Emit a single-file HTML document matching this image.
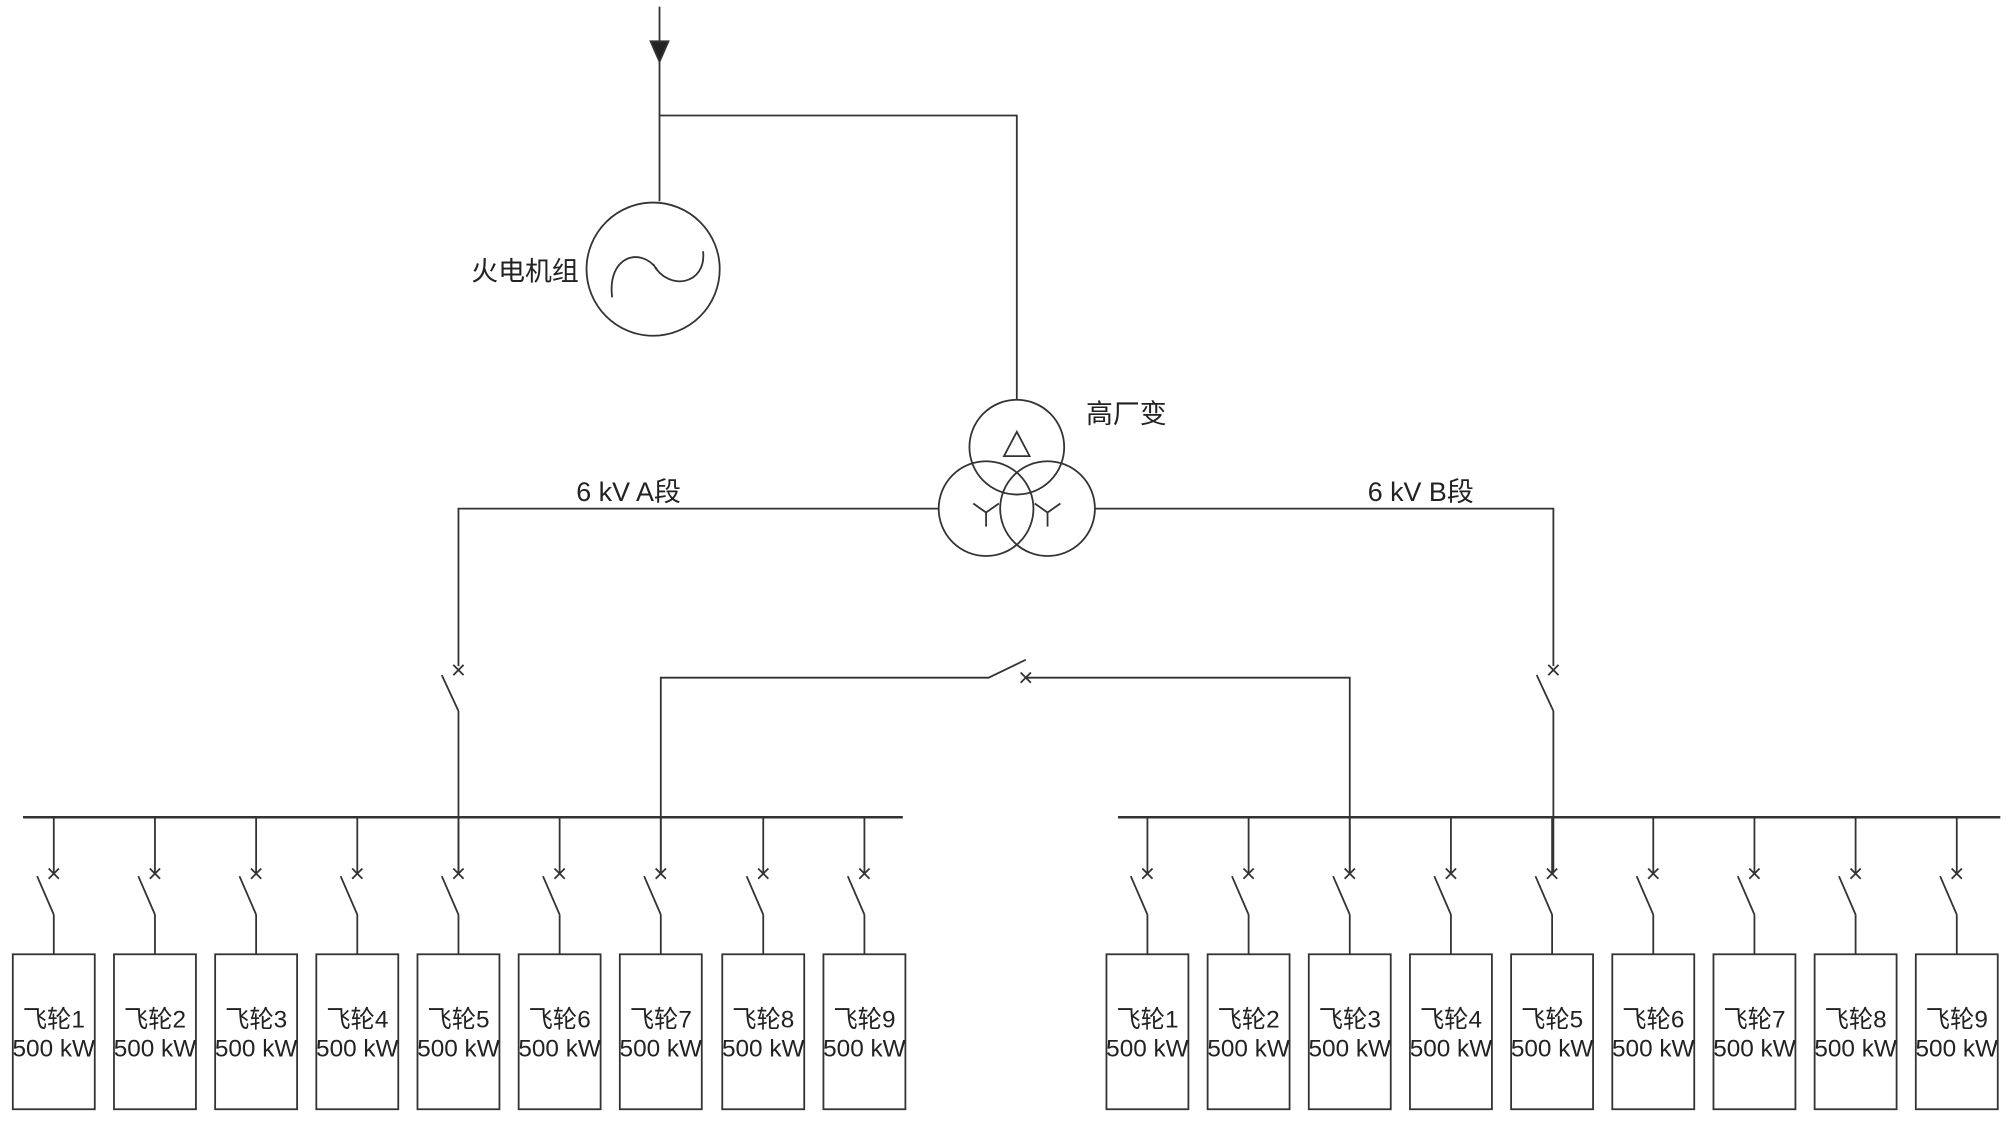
<!DOCTYPE html>
<html><head><meta charset="utf-8"><style>
html,body{margin:0;padding:0;background:#fff;}
svg{display:block;}
text{font-family:"Liberation Sans","Noto Sans CJK SC",sans-serif;fill:#222;}
</style></head><body>
<svg width="2008" height="1121" viewBox="0 0 1568 875" xmlns="http://www.w3.org/2000/svg">
<defs>
<g id="fd" stroke="#333" stroke-width="1.4" fill="none">
<line x1="0" y1="638" x2="0" y2="682"/>
<line x1="-4" y1="678" x2="4" y2="686"/><line x1="4" y1="678" x2="-4" y2="686"/>
<line x1="-13" y1="684" x2="0" y2="714"/>
<line x1="0" y1="714" x2="0" y2="745"/>
<rect x="-32" y="745" width="64" height="121"/>
</g>
</defs>
<g stroke="#333" stroke-width="1.4" fill="none">
<line x1="515" y1="5" x2="515" y2="157"/>
<polygon points="508,32 522,32 515,48" fill="#222"/>
<polyline points="515,90 794,90 794,312"/>
<circle cx="510" cy="210" r="52"/>
<path d="M478,232 C474,200 500,192 513,210 M510,206 C522,228 552,222 549,196"/>
<circle cx="794" cy="349" r="37"/>
<circle cx="770" cy="397" r="37"/>
<circle cx="818" cy="397" r="37"/>
<polygon points="794,337 784,356 804,356"/>
<path d="M760,393 L770,400 L780,393 M770,400 L770,411"/>
<path d="M808,393 L818,400 L828,393 M818,400 L818,411"/>
<polyline points="733,397 358,397 358,520"/>
<line x1="354" y1="519" x2="362" y2="527"/><line x1="362" y1="519" x2="354" y2="527"/>
<line x1="345" y1="527" x2="358" y2="555"/>
<line x1="358" y1="555" x2="358" y2="682"/>
<polyline points="855,397 1213,397 1213,520"/>
<line x1="1209" y1="519" x2="1217" y2="527"/><line x1="1217" y1="519" x2="1209" y2="527"/>
<line x1="1200" y1="527" x2="1213" y2="555"/>
<line x1="1213" y1="555" x2="1213" y2="682"/>
<polyline points="516,682 516,529 772,529 801,515"/>
<line x1="797" y1="525" x2="805" y2="533"/><line x1="805" y1="525" x2="797" y2="533"/>
<polyline points="801,529 1054,529 1054,682"/>
<line x1="18" y1="638" x2="705" y2="638" stroke-width="2"/>
<line x1="873" y1="638" x2="1562" y2="638" stroke-width="2"/>
</g>
<g>
<use href="#fd" x="42"/><use href="#fd" x="121"/><use href="#fd" x="200"/><use href="#fd" x="279"/><use href="#fd" x="358"/><use href="#fd" x="437"/><use href="#fd" x="516"/><use href="#fd" x="596"/><use href="#fd" x="675"/>
<use href="#fd" x="896"/><use href="#fd" x="975"/><use href="#fd" x="1054"/><use href="#fd" x="1133"/><use href="#fd" x="1212"/><use href="#fd" x="1291"/><use href="#fd" x="1370"/><use href="#fd" x="1449"/><use href="#fd" x="1528"/>
</g>
<text x="368" y="219" font-size="21">火电机组</text>
<text x="848" y="330" font-size="21">高厂变</text>
<text x="450" y="391" font-size="21">6 kV A段</text>
<text x="1068" y="391" font-size="21">6 kV B段</text>
<g font-size="19" text-anchor="middle">
<text x="42" y="802">飞轮1</text><text x="42" y="825">500 kW</text>
<text x="121" y="802">飞轮2</text><text x="121" y="825">500 kW</text>
<text x="200" y="802">飞轮3</text><text x="200" y="825">500 kW</text>
<text x="279" y="802">飞轮4</text><text x="279" y="825">500 kW</text>
<text x="358" y="802">飞轮5</text><text x="358" y="825">500 kW</text>
<text x="437" y="802">飞轮6</text><text x="437" y="825">500 kW</text>
<text x="516" y="802">飞轮7</text><text x="516" y="825">500 kW</text>
<text x="596" y="802">飞轮8</text><text x="596" y="825">500 kW</text>
<text x="675" y="802">飞轮9</text><text x="675" y="825">500 kW</text>
<text x="896" y="802">飞轮1</text><text x="896" y="825">500 kW</text>
<text x="975" y="802">飞轮2</text><text x="975" y="825">500 kW</text>
<text x="1054" y="802">飞轮3</text><text x="1054" y="825">500 kW</text>
<text x="1133" y="802">飞轮4</text><text x="1133" y="825">500 kW</text>
<text x="1212" y="802">飞轮5</text><text x="1212" y="825">500 kW</text>
<text x="1291" y="802">飞轮6</text><text x="1291" y="825">500 kW</text>
<text x="1370" y="802">飞轮7</text><text x="1370" y="825">500 kW</text>
<text x="1449" y="802">飞轮8</text><text x="1449" y="825">500 kW</text>
<text x="1528" y="802">飞轮9</text><text x="1528" y="825">500 kW</text>
</g>
</svg>
</body></html>
